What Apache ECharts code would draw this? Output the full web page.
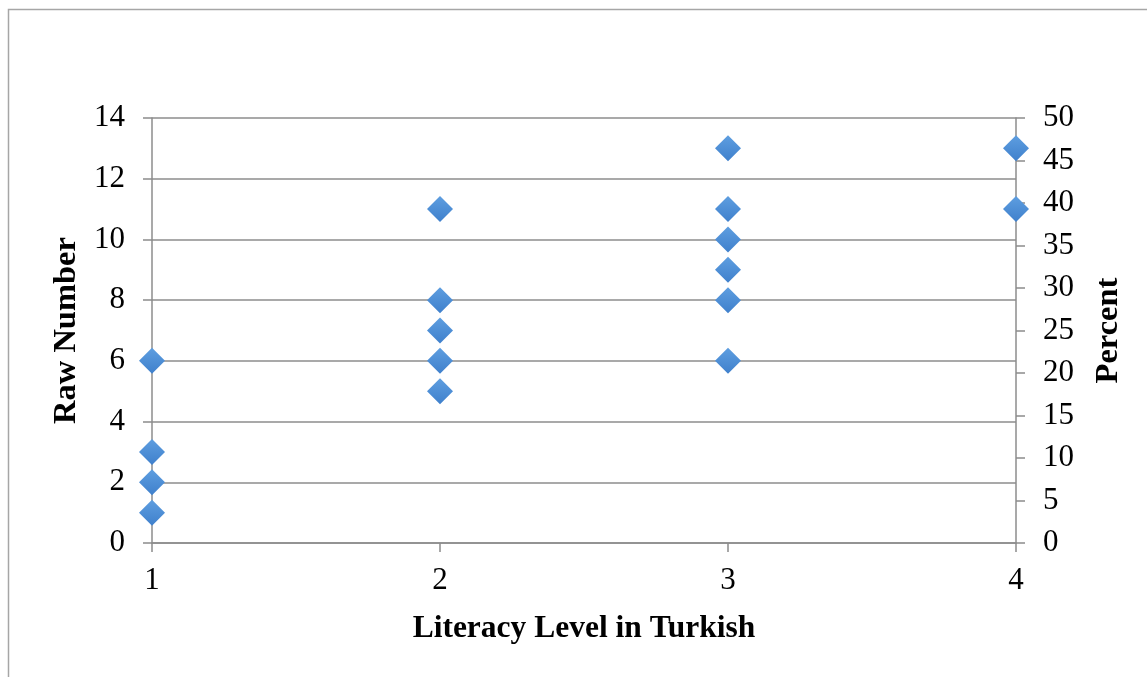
<!DOCTYPE html>
<html>
<head>
<meta charset="utf-8">
<script src="https://cdn.jsdelivr.net/npm/echarts@6/dist/echarts.min.js"></script>
<style>
html,body{margin:0;padding:0;background:#fff;}
#chart{width:1147px;height:677px;}
</style>
</head>
<body>
<div id="chart"></div>
<script>
const xLevels = [1, 1, 1, 1, 2, 2, 2, 2, 2, 3, 3, 3, 3, 3, 3, 4, 4];
const rawNumbers = [6, 3, 2, 1, 11, 8, 7, 6, 5, 13, 11, 10, 9, 8, 6, 13, 11];
const xAxisName = 'Literacy Level in Turkish';
const leftAxisName = 'Raw Number';
const rightAxisName = 'Percent';

const points = xLevels.map((x, i) => [x, rawNumbers[i]]);
const font = 'Liberation Serif';
const grey = '#8c8c8c';

const chart = echarts.init(document.getElementById('chart'));
chart.setOption({
  animation: false,
  backgroundColor: '#fff',
  graphic: [{
    type: 'rect',
    shape: { x: 8.5, y: 9.5, width: 1300, height: 1000 },
    style: { fill: 'none', stroke: '#a6a6a6', lineWidth: 1.5 },
    silent: true
  }],
  grid: { left: 152, right: 131, top: 118, bottom: 134 },
  xAxis: {
    type: 'value', min: 1, max: 4, interval: 1,
    name: xAxisName, nameLocation: 'middle', nameGap: 70,
    nameTextStyle: { fontFamily: font, fontSize: 31.5, fontWeight: 'bold', color: '#000' },
    axisLine: { show: true, onZero: false, lineStyle: { color: grey, width: 1.5 } },
    axisTick: { show: true, length: 9, lineStyle: { color: grey, width: 1.5 } },
    axisLabel: { fontFamily: font, fontSize: 31, color: '#000', margin: 22 },
    splitLine: { show: false }
  },
  yAxis: [{
    type: 'value', min: 0, max: 14, interval: 2, position: 'left',
    name: leftAxisName, nameLocation: 'middle', nameGap: 68, nameRotate: 90,
    nameTextStyle: { fontFamily: font, fontSize: 32.5, fontWeight: 'bold', color: '#000' },
    axisLine: { show: true, lineStyle: { color: grey, width: 1.5 } },
    axisTick: { show: true, length: 9, lineStyle: { color: grey, width: 1.5 } },
    axisLabel: { fontFamily: font, fontSize: 31, color: '#000', margin: 27 },
    splitLine: { show: true, lineStyle: { color: grey, width: 1.5 } }
  }, {
    type: 'value', min: 0, max: 50, interval: 5, position: 'right',
    name: rightAxisName, nameLocation: 'middle', nameGap: 76, nameRotate: 90,
    nameTextStyle: { fontFamily: font, fontSize: 32.5, fontWeight: 'bold', color: '#000' },
    axisLine: { show: true, lineStyle: { color: grey, width: 1.5 } },
    axisTick: { show: true, length: 9, lineStyle: { color: grey, width: 1.5 } },
    axisLabel: { fontFamily: font, fontSize: 31, color: '#000', margin: 27 },
    splitLine: { show: false }
  }],
  series: [{
    type: 'scatter',
    yAxisIndex: 0,
    data: points,
    symbol: 'diamond',
    symbolSize: 26,
    itemStyle: {
      opacity: 1,
      color: {
        type: 'linear', x: 0, y: 0, x2: 0, y2: 1,
        colorStops: [{ offset: 0, color: '#5e9ee0' }, { offset: 1, color: '#3f80cc' }]
      }
    }
  }]
});
</script>
</body>
</html>
